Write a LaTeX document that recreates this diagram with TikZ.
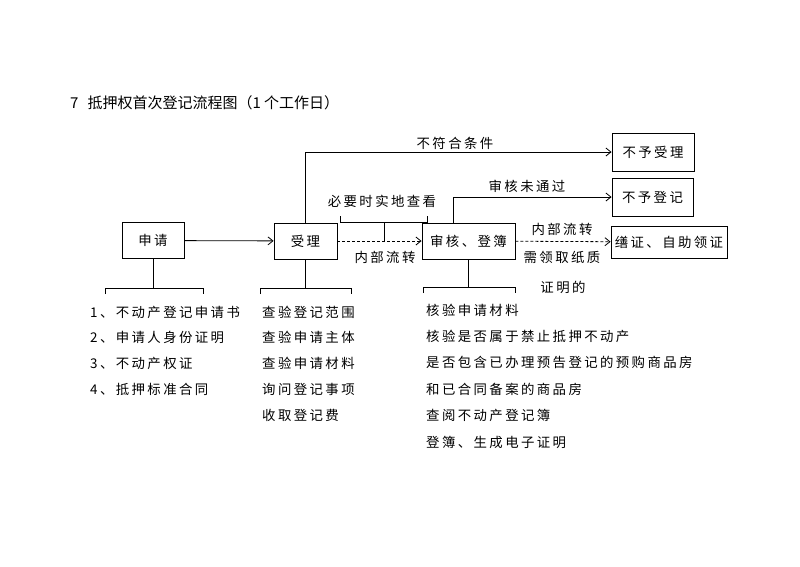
\documentclass[tikz,border=0pt]{standalone}
\usepackage{fontspec}
\setmainfont{Noto Sans CJK SC}[LetterSpace=18]
\newfontfamily\titlefont{Noto Sans CJK SC}
\usetikzlibrary{positioning,arrows.meta}

\begin{document}
\begin{tikzpicture}[
		x=1pt,y=-1pt,
		font=\fontsize{13.4}{16}\selectfont,
		box/.style={draw,line width=0.9pt,minimum height=36pt,inner sep=0pt},
		flow/.style={-{Straight Barb[length=5pt,width=8pt]},line width=0.8pt},
		inner/.style={-{Straight Barb[length=5pt,width=8pt]},densely dashed,line width=0.8pt},
		brace/.style={line width=0.8pt},
		item/.style={anchor=west,inner sep=0pt}]
		\useasboundingbox (0,0) rectangle (800,566);
		
		% Title
		\node[item] (title) at (70,103) {\titlefont\fontsize{15}{18}\selectfont 7\hspace{9pt}抵押权首次登记流程图（1 个工作日）};
		
		% Boxes
		\node[box,minimum width=62pt] (apply) at (153,240.5) {申请};
		\node[box,minimum width=63pt] (accept) at (305.5,241) {受理};
		\node[box,minimum width=93pt] (review) at (468.5,241) {审核、登簿};
		\node[box,minimum width=82pt,minimum height=38pt] (noaccept) at (653,152) {不予受理};
		\node[box,minimum width=81pt,minimum height=38pt] (noregister) at (652.5,197) {不予登记};
		\node[box,minimum width=116pt,minimum height=32pt] (issue) at (669,242) {缮证、自助领证};
		
		% Main flow
		\draw[flow] (apply) -- (accept);
		\draw[inner] (accept) -- (review);
		\draw[inner] (review) -- (issue);
		\draw[flow] (accept.north) |- (noaccept.west);
		\draw[flow] ([xshift=-15pt]review.north) |- (noregister.west);
		
		% Labels on connectors
		\node (fail) at (455,143) {不符合条件};
		\node (notpass) at (527,186) {审核未通过};
		\node (internal1) at (385,257) {内部流转};
		\node (internal2) at (562,229) {内部流转};
		\node (paper1) at (562,257) {需领取纸质};
		\node (paper2) at (563,287) {证明的};
		
		% Site check bracket
		\node (check) at (382,201) {必要时实地查看};
		\draw
		(384,242) coordinate (checkstem)
		(340,216) coordinate (checkleft)
		(427,216) coordinate (checkright);
		\draw[brace] (checkstem) -- (384,222);
		\draw[brace] (checkleft) -- (340,222) -- (427,222) -- (checkright);
		
		% Brackets below boxes
		\draw[brace] (apply.south) -- (153,288);
		\draw[brace] (105,294) -- (105,288) -- (203,288) -- (203,294);
		\draw[brace] (accept.south) -- (305.5,288);
		\draw[brace] (260,294) -- (260,288) -- (351,288) -- (351,294);
		\draw[brace] (review.south) -- (468.5,287);
		\draw[brace] (423,293) -- (423,287) -- (515,287) -- (515,293);
		
		% Lists
		\foreach \t [count=\i] in {1、不动产登记申请书,2、申请人身份证明,3、不动产权证,4、抵押标准合同}
		\node[item] (doc\i) at (90,{312+25.7*(\i-1)}) {\t};
		\foreach \t [count=\i] in {查验登记范围,查验申请主体,查验申请材料,询问登记事项,收取登记费}
		\node[item] (task\i) at (262,{312+25.75*(\i-1)}) {\t};
		\foreach \t [count=\i] in {核验申请材料,核验是否属于禁止抵押不动产,是否包含已办理预告登记的预购商品房,和已合同备案的商品房,查阅不动产登记簿,登簿、生成电子证明}
		\node[item] (check\i) at (426,{310+26.4*(\i-1)}) {\t};
		
\end{tikzpicture}
\end{document}
